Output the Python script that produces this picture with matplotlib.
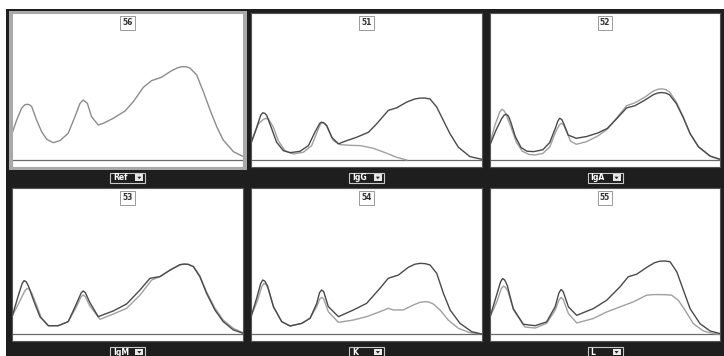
import matplotlib
matplotlib.use("Agg")
import matplotlib.pyplot as plt
from matplotlib.patches import Rectangle, Polygon

# panel numbers and dropdown labels
panel_ids = ["56", "51", "52", "53", "54", "55"]
panel_labels = ["Ref", "IgG", "IgA", "IgM", "K", "L"]

# Ref panel (single trace)
ref_x = [0, 1.9, 4.0, 5.3, 6.5, 7.5, 8.4, 10.5, 12.7, 14.9, 17.7, 20.6, 24.2, 27.1, 29.3, 30.7, 32.5, 34.3,
         37.2, 39.4, 43.7, 48.8, 52.4, 56.7, 60.3, 64.6, 69.0, 71.5, 73.3, 75.2, 76.9, 79.8, 82.7, 85.6,
         88.5, 91.3, 95.7, 100]
ref_y = [18.6, 27.3, 35.2, 37.5, 38.0, 37.6, 36.4, 27.3, 19.3, 14.1, 11.8, 13.2, 18.2, 29.5, 38.6, 40.9, 38.6, 29.5,
         23.9, 25.0, 28.4, 33.4, 39.8, 49.5, 54.1, 56.4, 60.9, 62.8, 63.6, 63.6, 62.7, 58.0, 46.6, 34.1,
         22.7, 13.6, 5.7, 2.3]

# IgG panel
igg_ref_x = [0, 2.5, 4.2, 5.1, 6.0, 6.8, 9.0, 11.1, 14.0, 16.9, 21.2, 24.9, 27.7, 29.8, 30.6, 31.6, 32.8, 35.0,
             37.9, 41.5, 45.8, 50.9, 54.5, 59.5, 63.2, 67.5, 71.0, 73.3, 75.5, 77.6, 80.5, 83.4, 86.3, 89.9, 94.9, 100]
igg_ref_y = [11.4, 22.4, 30.5, 32.2, 31.8, 30.4, 21.2, 12.1, 6.4, 5.0, 5.9, 9.8, 18.9, 25.0, 25.8, 25.2, 23.5, 15.5,
             11.0, 13.2, 15.5, 18.9, 24.7, 33.8, 35.6, 39.5, 41.6, 42.2, 42.2, 41.6, 36.1, 26.9, 17.8, 8.7, 2.3, 0.5]
igg_x = [0, 3.2, 5.3, 6.4, 7.5, 9.7, 11.8, 14.7, 18.4, 22.7, 26.3, 29.2, 30.2, 31.1, 32.0, 33.1, 35.7, 38.6,
         42.9, 47.3, 53.0, 58.8, 63.2, 67.5]
igg_y = [11.4, 24.7, 27.6, 28.3, 28.1, 22.4, 13.2, 6.4, 4.1, 5.3, 9.8, 21.2, 24.6, 25.6, 24.8, 22.4, 13.2, 10.5,
         10.0, 9.8, 8.0, 4.6, 1.8, 0.0]

# IgA panel
iga_ref_x = [0, 2.5, 5.0, 6.1, 7.1, 8.0, 9.0, 11.0, 13.5, 16.0, 19.0, 23.0, 26.0, 28.5, 29.5, 30.3, 31.2, 32.0,
             34.0, 37.5, 42.0, 47.0, 51.0, 55.0, 59.4, 63.0, 67.0, 71.0, 73.0, 74.6, 76.5, 78.0, 81.0, 84.0, 87.0,
             90.6, 95.7, 100]
iga_ref_y = [10.2, 20.0, 28.0, 30.5, 31.2, 30.0, 26.0, 16.0, 8.5, 6.0, 5.7, 7.0, 12.0, 22.0, 26.5, 28.4, 27.6, 25.0,
             17.0, 14.8, 16.0, 18.5, 21.5, 28.0, 35.5, 37.0, 40.5, 44.5, 45.7, 46.0, 45.6, 44.5, 38.5, 29.0, 18.0,
             9.1, 2.7, 0.5]
iga_x = [0, 2.2, 4.3, 5.2, 6.1, 7.0, 9.2, 11.5, 14.0, 17.0, 19.4, 23.0, 26.0, 28.5, 30.2, 31.0, 31.9, 33.0, 35.0,
         37.5, 42.0, 47.0, 51.0, 55.0, 59.4, 63.0, 67.0, 71.0, 73.0, 74.6, 76.5, 78.0, 81.0, 84.0, 87.0, 90.6, 95.7, 100]
iga_y = [11.4, 24.0, 33.0, 34.6, 33.6, 31.0, 22.0, 12.0, 6.0, 3.8, 3.4, 4.5, 9.0, 19.0, 24.0, 25.0, 24.3, 20.5, 13.0,
         10.7, 12.5, 16.5, 21.0, 28.5, 37.0, 39.0, 42.5, 47.0, 48.2, 48.5, 48.0, 46.5, 39.5, 29.5, 18.0, 9.0, 2.5, 0.3]

# IgM panel
igm_ref_x = [0, 2.5, 4.2, 5.1, 6.0, 7.0, 9.5, 12.0, 15.6, 19.9, 24.2, 27.5, 29.8, 30.7, 31.6, 33.5, 37.2, 43.7,
             49.5, 55.3, 59.6, 63.9, 68.3, 72.6, 74.5, 76.2, 78.4, 81.2, 84.1, 87.7, 91.3, 95.7, 100]
igm_ref_y = [12.6, 26.0, 34.5, 36.8, 36.0, 33.0, 22.0, 12.0, 5.9, 5.9, 8.7, 20.0, 28.3, 29.7, 28.6, 22.0, 12.1, 16.0,
             20.8, 30.4, 38.4, 39.5, 44.0, 47.7, 48.1, 47.9, 46.3, 39.5, 28.1, 16.7, 8.7, 3.0, 0.7]
igm_x = [0, 3.0, 5.5, 6.5, 7.5, 8.5, 10.5, 12.5, 15.6, 19.9, 24.2, 27.5, 29.8, 30.7, 31.6, 33.5, 38.0, 43.7,
         49.5, 55.3, 60.3, 63.9, 68.3, 72.6, 74.5, 76.2, 78.4, 81.2, 84.1, 87.7, 91.3, 95.7, 100]
igm_y = [12.6, 22.0, 30.0, 31.5, 30.8, 28.0, 20.0, 11.5, 5.9, 5.9, 8.7, 18.0, 25.8, 26.9, 25.8, 19.5, 10.3, 13.9,
         17.8, 26.9, 37.2, 39.5, 44.0, 47.7, 48.1, 47.9, 46.5, 40.0, 29.0, 18.0, 9.8, 4.1, 0.9]

# K panel
k_ref_x = [0, 2.5, 4.2, 5.1, 6.0, 7.2, 9.7, 13.3, 16.9, 22.0, 25.6, 28.5, 29.7, 30.6, 31.5, 33.5, 37.9, 44.4,
           50.1, 55.9, 59.5, 63.9, 68.2, 71.0, 73.3, 75.5, 77.6, 80.5, 83.4, 86.3, 90.6, 95.7, 100]
k_ref_y = [12.1, 25.0, 34.8, 37.2, 36.4, 33.0, 18.9, 8.7, 5.7, 7.5, 11.0, 21.2, 28.5, 30.4, 29.2, 19.0, 12.1, 16.7,
           21.2, 31.5, 38.4, 40.6, 45.9, 48.0, 48.6, 48.4, 47.5, 41.8, 28.1, 16.7, 7.5, 1.8, 0.2]
k_x = [0, 2.8, 4.7, 5.6, 6.5, 7.5, 9.9, 13.3, 16.9, 22.0, 25.6, 28.5, 29.7, 30.6, 31.5, 33.5, 37.9, 44.4,
       50.1, 55.9, 59.5, 61.7, 66.0, 70.4, 73.0, 75.4, 77.3, 79.0, 81.9, 85.5, 89.9, 94.9, 100]
k_y = [12.1, 23.0, 32.8, 34.9, 34.2, 31.0, 18.5, 8.7, 5.7, 7.5, 11.0, 19.0, 24.0, 25.3, 24.3, 15.5, 8.2, 9.8,
       12.1, 15.5, 17.8, 16.7, 16.7, 20.1, 21.8, 22.4, 22.0, 20.8, 16.7, 9.8, 4.1, 1.1, 0.2]

# L panel
l_ref_x = [0, 2.7, 4.6, 5.5, 6.4, 7.5, 10.1, 14.5, 19.6, 24.6, 28.3, 30.0, 30.9, 31.8, 34.1, 37.7, 44.9,
           50.7, 56.5, 60.1, 63.8, 68.1, 71.5, 73.9, 76.2, 78.3, 81.2, 84.1, 87.0, 91.3, 95.7, 100]
l_ref_y = [11.9, 26.0, 36.0, 38.2, 37.2, 33.5, 17.6, 6.9, 5.9, 8.5, 18.8, 28.5, 30.7, 29.3, 18.8, 13.0, 17.6,
           23.3, 32.5, 39.4, 41.2, 45.8, 49.0, 50.1, 50.2, 49.7, 42.8, 30.2, 17.6, 7.3, 2.3, 0.5]
l_x = [0, 2.9, 4.9, 5.8, 6.7, 7.8, 10.3, 15.2, 19.6, 24.6, 28.3, 30.0, 30.9, 31.8, 34.1, 37.7, 44.9, 50.7,
       56.5, 62.3, 68.1, 71.0, 73.9, 76.5, 79.0, 81.9, 84.8, 88.4, 92.8, 97.1, 100]
l_y = [11.9, 22.0, 31.2, 33.0, 32.2, 29.5, 16.5, 5.0, 4.3, 7.5, 16.5, 23.5, 25.2, 24.0, 14.2, 7.8, 10.8, 15.3,
       18.8, 22.2, 26.8, 27.2, 27.2, 27.1, 26.8, 23.3, 16.5, 7.3, 2.3, 0.5, 0.0]

traces = [
    [(ref_x, ref_y)],
    [(igg_ref_x, igg_ref_y), (igg_x, igg_y)],
    [(iga_ref_x, iga_ref_y), (iga_x, iga_y)],
    [(igm_ref_x, igm_ref_y), (igm_x, igm_y)],
    [(k_ref_x, k_ref_y), (k_x, k_y)],
    [(l_ref_x, l_ref_y), (l_x, l_y)],
]

W, H = 724, 356
fig = plt.figure(figsize=(W / 100, H / 100), dpi=100)
fig.patch.set_facecolor("white")

# background layer in pixel coords
bg = fig.add_axes([0, 0, 1, 1], zorder=0)
bg.set_xlim(0, W)
bg.set_ylim(H, 0)
bg.axis("off")
bg.add_patch(Rectangle((6, 9), W - 6, H - 9, fc="#1e1e1e", ec="none"))
# selected-panel frame
bg.add_patch(Rectangle((9, 10.5), 237.5, 159, fc="#a9a9a9", ec="none"))

cols = [(12.3, 243.3), (251, 481.7), (490, 720)]
rows = [(13.3, 166.7), (188.3, 341)]

for i in range(6):
    r, c = divmod(i, 3)
    x0, x1 = cols[c]
    y0, y1 = rows[r]
    ax = fig.add_axes([x0 / W, 1 - y1 / H, (x1 - x0) / W, (y1 - y0) / H], zorder=1)
    ax.set_facecolor("white")
    ax.set_xlim(0, 100)
    ax.set_ylim(-4.57, 100)
    ax.set_xticks([])
    ax.set_yticks([])
    for s in ax.spines.values():
        s.set_color("#555555" if i else "#a9a9a9")
        s.set_linewidth(0.8)

    ax.axhline(0, color="#6a6a6a", lw=0.9)
    if i == 0:
        ax.plot(ref_x, ref_y, color="#8c8c8c", lw=1.0, solid_joinstyle="round")
    else:
        (ax_, ay_), (bx_, by_) = traces[i]
        ax.plot(bx_, by_, color="#a0a0a0", lw=1.0, solid_joinstyle="round")
        ax.plot(ax_, ay_, color="#4a4a4a", lw=1.0, solid_joinstyle="round")

    ax.text(0.5, 0.938, panel_ids[i], transform=ax.transAxes, ha="center", va="center",
            fontsize=5.5, color="#333333", fontweight="bold",
            bbox=dict(boxstyle="square,pad=0.3", fc="white", ec="#9a9a9a", lw=0.7))

    # dropdown below panel
    cx = (x0 + x1) / 2
    cy = y1 + 11
    bg.add_patch(Rectangle((cx - 17.5, cy - 5.2), 35, 10.4, fc="#1e1e1e", ec="#c8c8c8", lw=0.8))
    bg.text(cx - 14.5, cy + 0.3, panel_labels[i], color="white", fontsize=5.5, fontweight="bold",
            ha="left", va="center")
    bg.add_patch(Rectangle((cx + 7.5, cy - 3.3), 8, 6.6, fc="#e8e8e8", ec="none"))
    bg.add_patch(Polygon([[cx + 9.5, cy - 1], [cx + 13.5, cy - 1], [cx + 11.5, cy + 1.5]],
                         closed=True, fc="#222222", ec="none"))

fig.savefig("out.png", dpi=100)
